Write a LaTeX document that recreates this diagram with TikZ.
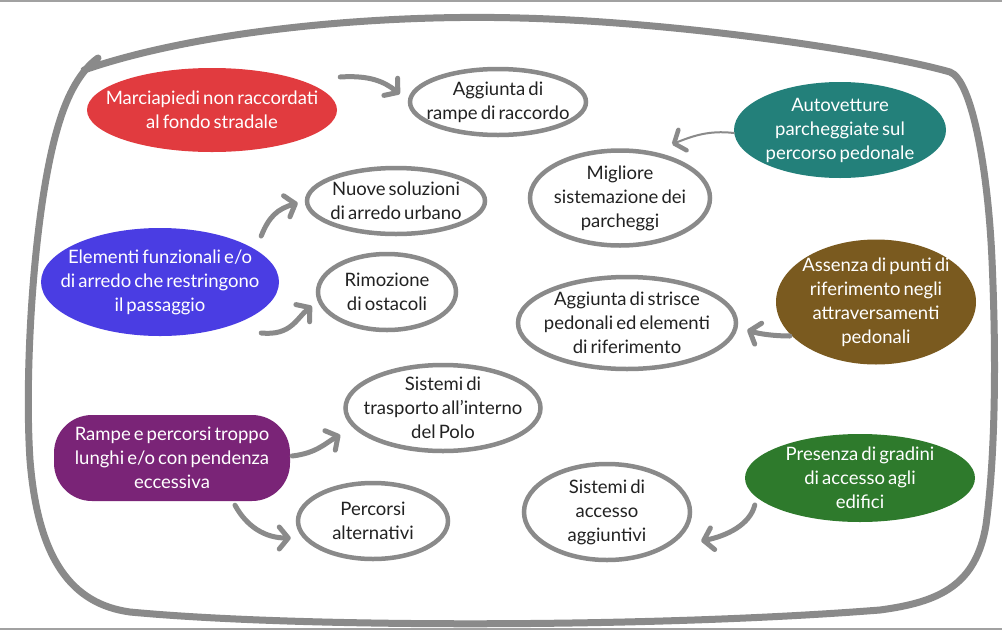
\documentclass[tikz,border=0pt]{standalone}
\usepackage{fontspec}
\setmainfont{Lato}[WordSpace=0.65]
\usetikzlibrary{shapes.geometric,arrows.meta,calc}
\definecolor{framegray}{HTML}{8A8A8A}
\definecolor{cred}{HTML}{E13B3F}
\definecolor{cteal}{HTML}{23807A}
\definecolor{cblue}{HTML}{4A3DE3}
\definecolor{cbrown}{HTML}{7A5A1F}
\definecolor{cpurple}{HTML}{7A2477}
\definecolor{cgreen}{HTML}{2E7A2C}
\definecolor{ctext}{HTML}{222222}
\tikzset{
  txt/.style={align=center, font=\fontsize{18.5}{24}\selectfont},
  prob/.style={ellipse, fill=#1, text=white, inner xsep=-45pt, inner ysep=-30pt, txt},
  probr/.style={rectangle, rounded corners=38pt, fill=#1, text=white, inner sep=0pt, txt},
  sol/.style={ellipse, draw=framegray, line width=4.5pt, fill=white, text=ctext,
    inner xsep=-45pt, inner ysep=-30pt, txt},
  arr/.style={draw=framegray, line width=5pt, line cap=round,
    -{Straight Barb[round,length=9pt,width=22pt]}},
  arrthin/.style={draw=framegray, line width=2pt, line cap=round,
    -{Straight Barb[round,length=9pt,width=22pt,line width=4.5pt]}},
}
\begin{document}
\begin{tikzpicture}[x=1pt,y=-1pt]
\useasboundingbox (0,0) rectangle (1002,630);
\fill[white] (0,0) rectangle (1002,630);
% screenshot border lines
\draw[framegray!80, line width=2pt] (0,1) -- (1002,1);
\draw[framegray!80, line width=2pt] (0,629) -- (1002,629);
% outer frame
\draw[framegray, line width=7pt, line cap=round, line join=round]
  (84,70) .. controls (200,30) and (380,14) .. (520,18)
  .. controls (680,22) and (880,52) .. (950,72)
  .. controls (972,80) and (988,170) .. (992,260)
  .. controls (996,350) and (996,450) .. (986,525)
  .. controls (976,585) and (940,602) .. (880,610)
  .. controls (650,628) and (300,628) .. (130,612)
  .. controls (72,604) and (38,560) .. (30,460)
  .. controls (24,370) and (34,200) .. (60,120)
  .. controls (70,88) and (84,68) .. (98,58);

% problems
\node[prob=cred, minimum width=250pt, minimum height=84pt] (red) at (212,110)
  {Marciapiedi non raccordati\\al fondo stradale};
\node[prob=cteal, minimum width=212pt, minimum height=96pt] (teal) at (840,130)
  {Autovetture\\parcheggiate sul\\percorso pedonale};
\node[prob=cblue, minimum width=238pt, minimum height=108pt] (blue) at (160,282)
  {Elementi funzionali e/o\\di arredo che restringono\\il passaggio};
\node[prob=cbrown, minimum width=200pt, minimum height=125pt] (brown) at (876,302)
  {Assenza di punti di\\riferimento negli\\attraversamenti\\pedonali};
\node[probr=cpurple, minimum width=236pt, minimum height=86pt] (purple) at (172,458)
  {Rampe e percorsi troppo\\lunghi e/o con pendenza\\eccessiva};
\node[prob=cgreen, minimum width=230pt, minimum height=88pt] (green) at (860,478)
  {Presenza di gradini\\di accesso agli\\edifici};

% solutions
\node[sol, minimum width=176pt, minimum height=66pt] (agg) at (498,102)
  {Aggiunta di\\rampe di raccordo};
\node[sol, minimum width=180pt, minimum height=95pt] (mig) at (620,198)
  {Migliore\\sistemazione dei\\parcheggi};
\node[sol, minimum width=178pt, minimum height=66pt] (nuove) at (396,201)
  {Nuove soluzioni\\di arredo urbano};
\node[sol, minimum width=138pt, minimum height=76pt] (rim) at (387,292)
  {Rimozione\\di ostacoli};
\node[sol, minimum width=218pt, minimum height=92pt] (strisce) at (627,323)
  {Aggiunta di strisce\\pedonali ed elementi\\di riferimento};
\node[sol, minimum width=195pt, minimum height=86pt] (trasp) at (443,408)
  {Sistemi di\\trasporto all’interno\\del Polo};
\node[sol, minimum width=150pt, minimum height=76pt] (perc) at (373,521)
  {Percorsi\\alternativi};
\node[sol, minimum width=166pt, minimum height=96pt] (acc) at (607,512)
  {Sistemi di\\accesso\\aggiuntivi};

% connectors
\draw[arr] ($(red.east)+(3,-33)$) .. controls +(30,-2) and +(-15,-12) .. ($(agg.west)+(-8,-8)$);
\draw[arrthin] ($(teal.west)+(0,3)$) .. controls +(-25,-3) and +(20,-8) .. ($(mig.north)+(52,-4)$);
\draw[arr] ($(blue.east)+(-18,-46)$) .. controls +(8,-20) and +(-20,6) .. ($(nuove.west)+(-7,2)$);
\draw[arr] ($(blue.east)+(-18,51)$) .. controls +(30,3) and +(-15,12) .. ($(rim.west)+(-4,14)$);
\draw[arr] ($(brown.west)+(14,34)$) .. controls +(-15,0) and +(12,4) .. ($(strisce.east)+(9,7)$);
\draw[arr] ($(purple.east)+(2,-2)$) .. controls +(25,-3) and +(-15,8) .. ($(trasp.west)+(-3,27)$);
\draw[arr] ($(purple.south)+(63,4)$) .. controls +(12,22) and +(-25,0) .. ($(perc.west)+(-5,17)$);
\draw[arr] ($(green.west)+(10,27)$) .. controls +(-5,20) and +(25,-5) .. ($(acc.east)+(9,29)$);
\end{tikzpicture}
\end{document}
